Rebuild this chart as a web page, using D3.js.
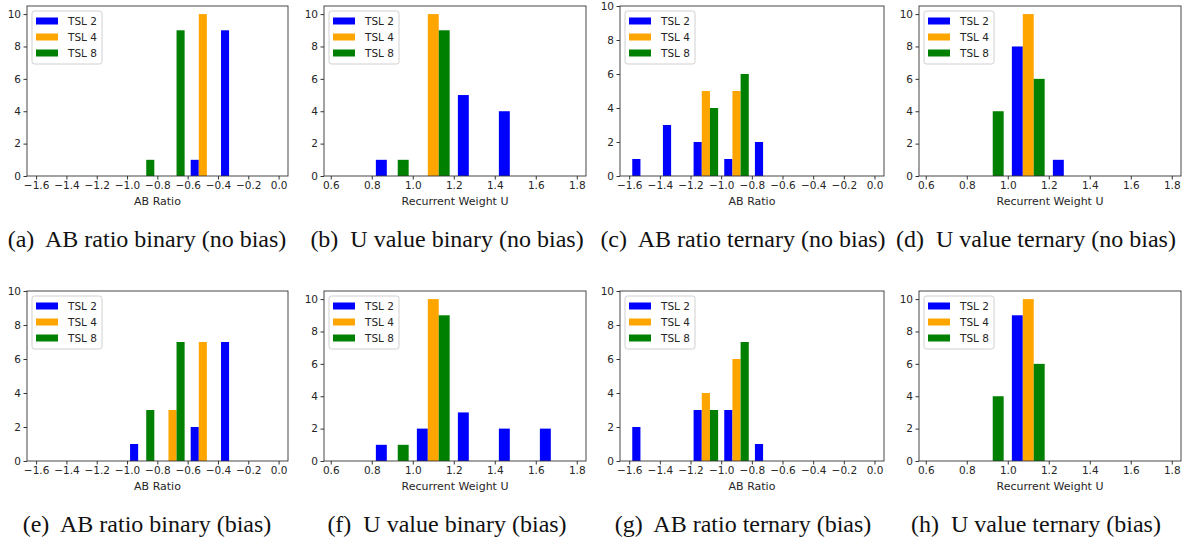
<!DOCTYPE html>
<html>
<head>
<meta charset="utf-8">
<script src="https://cdn.jsdelivr.net/npm/d3@7"></script>
<style>
  body { margin: 0; background: #fff; }
  svg { display: block; }
  .tick text { font-family: "DejaVu Sans", sans-serif; font-size: 10.5px; fill: #262626; }
  .tick line { stroke: #333; }
  .axis-label { font-family: "DejaVu Sans", sans-serif; font-size: 11px; fill: #262626; }
  .legend text { font-family: "DejaVu Sans", sans-serif; font-size: 10.5px; fill: #262626; }
  .caption { font-family: "Liberation Serif", "Times New Roman", serif; font-size: 24px; fill: #111; white-space: pre; }
</style>
</head>
<body>
<svg id="chart" width="1190" height="540"></svg>
<script>
const tslNames = ["TSL 2", "TSL 4", "TSL 8"];
const tslColors = ["blue", "orange", "green"];

// histogram bins (width 0.2)
const abBinStarts = [-1.6, -1.4, -1.2, -1.0, -0.8, -0.6, -0.4, -0.2];
const uBinStarts = [0.6, 0.8, 1.0, 1.2, 1.4, 1.6];
const binWidth = 0.2;

const abTicks = [-1.6, -1.4, -1.2, -1.0, -0.8, -0.6, -0.4, -0.2, 0.0];
const uTicks = [0.6, 0.8, 1.0, 1.2, 1.4, 1.6, 1.8];
const countTicks = [0, 2, 4, 6, 8, 10];

// counts per bin, one row per TSL
const abBinaryNoBias = [
  [0, 0, 0, 0, 0, 1, 9, 0],
  [0, 0, 0, 0, 0, 10, 0, 0],
  [0, 0, 0, 1, 9, 0, 0, 0]
];
const uBinaryNoBias = [
  [0, 1, 0, 5, 4, 0],
  [0, 0, 10, 0, 0, 0],
  [0, 1, 9, 0, 0, 0]
];
const abTernaryNoBias = [
  [1, 3, 2, 1, 2, 0, 0, 0],
  [0, 0, 5, 5, 0, 0, 0, 0],
  [0, 0, 4, 6, 0, 0, 0, 0]
];
const uTernaryNoBias = [
  [0, 0, 8, 1, 0, 0],
  [0, 0, 10, 0, 0, 0],
  [0, 4, 6, 0, 0, 0]
];
const abBinaryBias = [
  [0, 0, 0, 1, 0, 2, 7, 0],
  [0, 0, 0, 0, 3, 7, 0, 0],
  [0, 0, 0, 3, 7, 0, 0, 0]
];
const uBinaryBias = [
  [0, 1, 2, 3, 2, 2],
  [0, 0, 10, 0, 0, 0],
  [0, 1, 9, 0, 0, 0]
];
const abTernaryBias = [
  [2, 0, 3, 3, 1, 0, 0, 0],
  [0, 0, 4, 6, 0, 0, 0, 0],
  [0, 0, 3, 7, 0, 0, 0, 0]
];
const uTernaryBias = [
  [0, 0, 9, 0, 0, 0],
  [0, 0, 10, 0, 0, 0],
  [0, 4, 6, 0, 0, 0]
];

const captions = [
  "(a)  AB ratio binary (no bias)", "(b)  U value binary (no bias)",
  "(c)  AB ratio ternary (no bias)", "(d)  U value ternary (no bias)",
  "(e)  AB ratio binary (bias)", "(f)  U value binary (bias)",
  "(g)  AB ratio ternary (bias)", "(h)  U value ternary (bias)"
];

const svg = d3.select("#chart");

const columns = [[27, 288], [324, 586], [620, 884], [919, 1181]];
const rows = [[6, 176], [291, 461]];
const captionX = [147, 447, 743, 1036];
const captionY = [247, 532];

const abSpec = { bins: abBinStarts, ticks: abTicks, domain: [-1.66, 0.062], label: "AB Ratio" };
const uSpec = { bins: uBinStarts, ticks: uTicks, domain: [0.567, 1.845], label: "Recurrent Weight U" };

const panels = [
  { spec: abSpec, counts: abBinaryNoBias, ymax: 10.5 },
  { spec: uSpec, counts: uBinaryNoBias, ymax: 10.5 },
  { spec: abSpec, counts: abTernaryNoBias, ymax: 10 },
  { spec: uSpec, counts: uTernaryNoBias, ymax: 10.5 },
  { spec: abSpec, counts: abBinaryBias, ymax: 10 },
  { spec: uSpec, counts: uBinaryBias, ymax: 10.5 },
  { spec: abSpec, counts: abTernaryBias, ymax: 10 },
  { spec: uSpec, counts: uTernaryBias, ymax: 10.5 }
];

// matplotlib-style side by side bars: 80% of bin shared by the series
const barW = 0.8 * binWidth / tslNames.length;
const barPad = (binWidth - 0.8 * binWidth) / 2;

panels.forEach((p, i) => {
  const [x0, x1] = columns[i % 4];
  const [y0, y1] = rows[Math.floor(i / 4)];
  const x = d3.scaleLinear().domain(p.spec.domain).range([x0, x1]);
  const y = d3.scaleLinear().domain([0, p.ymax]).range([y1, y0]);
  const g = svg.append("g");

  const bars = [];
  p.counts.forEach((series, s) => {
    series.forEach((c, b) => {
      if (c > 0) bars.push({ s, start: p.spec.bins[b] + barPad + s * barW, c });
    });
  });

  g.selectAll("rect.bar")
    .data(bars)
    .join("rect")
    .attr("class", "bar")
    .attr("x", d => x(d.start))
    .attr("width", d => x(d.start + barW) - x(d.start))
    .attr("y", d => y(d.c))
    .attr("height", d => y(0) - y(d.c))
    .attr("fill", d => tslColors[d.s]);

  g.append("g")
    .attr("transform", `translate(0,${y1})`)
    .call(d3.axisBottom(x).tickValues(p.spec.ticks).tickFormat(d3.format(".1f")).tickSize(3.5).tickPadding(2.5))
    .call(a => a.select(".domain").remove());

  g.append("g")
    .attr("transform", `translate(${x0},0)`)
    .call(d3.axisLeft(y).tickValues(countTicks).tickFormat(d3.format("d")).tickSize(3.5).tickPadding(2.5))
    .call(a => a.select(".domain").remove());

  g.append("rect")
    .attr("x", x0).attr("y", y0)
    .attr("width", x1 - x0).attr("height", y1 - y0)
    .attr("fill", "none").attr("stroke", "#333").attr("stroke-width", 0.9);

  g.append("text")
    .attr("class", "axis-label")
    .attr("x", (x0 + x1) / 2)
    .attr("y", y1 + 29)
    .attr("text-anchor", "middle")
    .text(p.spec.label);

  const legend = g.append("g").attr("class", "legend");
  legend.append("rect")
    .attr("x", x0 + 5).attr("y", y0 + 5)
    .attr("width", 70).attr("height", 53)
    .attr("rx", 2.5)
    .attr("fill", "white").attr("fill-opacity", 0.8)
    .attr("stroke", "#d0d0d0");
  const items = legend.selectAll("g.item")
    .data(tslNames)
    .join("g")
    .attr("class", "item")
    .attr("transform", (d, k) => `translate(${x0 + 9},${y0 + 15 + k * 16})`);
  items.append("rect")
    .attr("x", 0).attr("y", -3.5)
    .attr("width", 22).attr("height", 7)
    .attr("fill", (d, k) => tslColors[k]);
  items.append("text")
    .attr("x", 32).attr("dy", "0.35em")
    .text(d => d);

  svg.append("text")
    .attr("class", "caption")
    .attr("x", captionX[i % 4])
    .attr("y", captionY[Math.floor(i / 4)])
    .attr("text-anchor", "middle")
    .text(captions[i]);
});
</script>
</body>
</html>
